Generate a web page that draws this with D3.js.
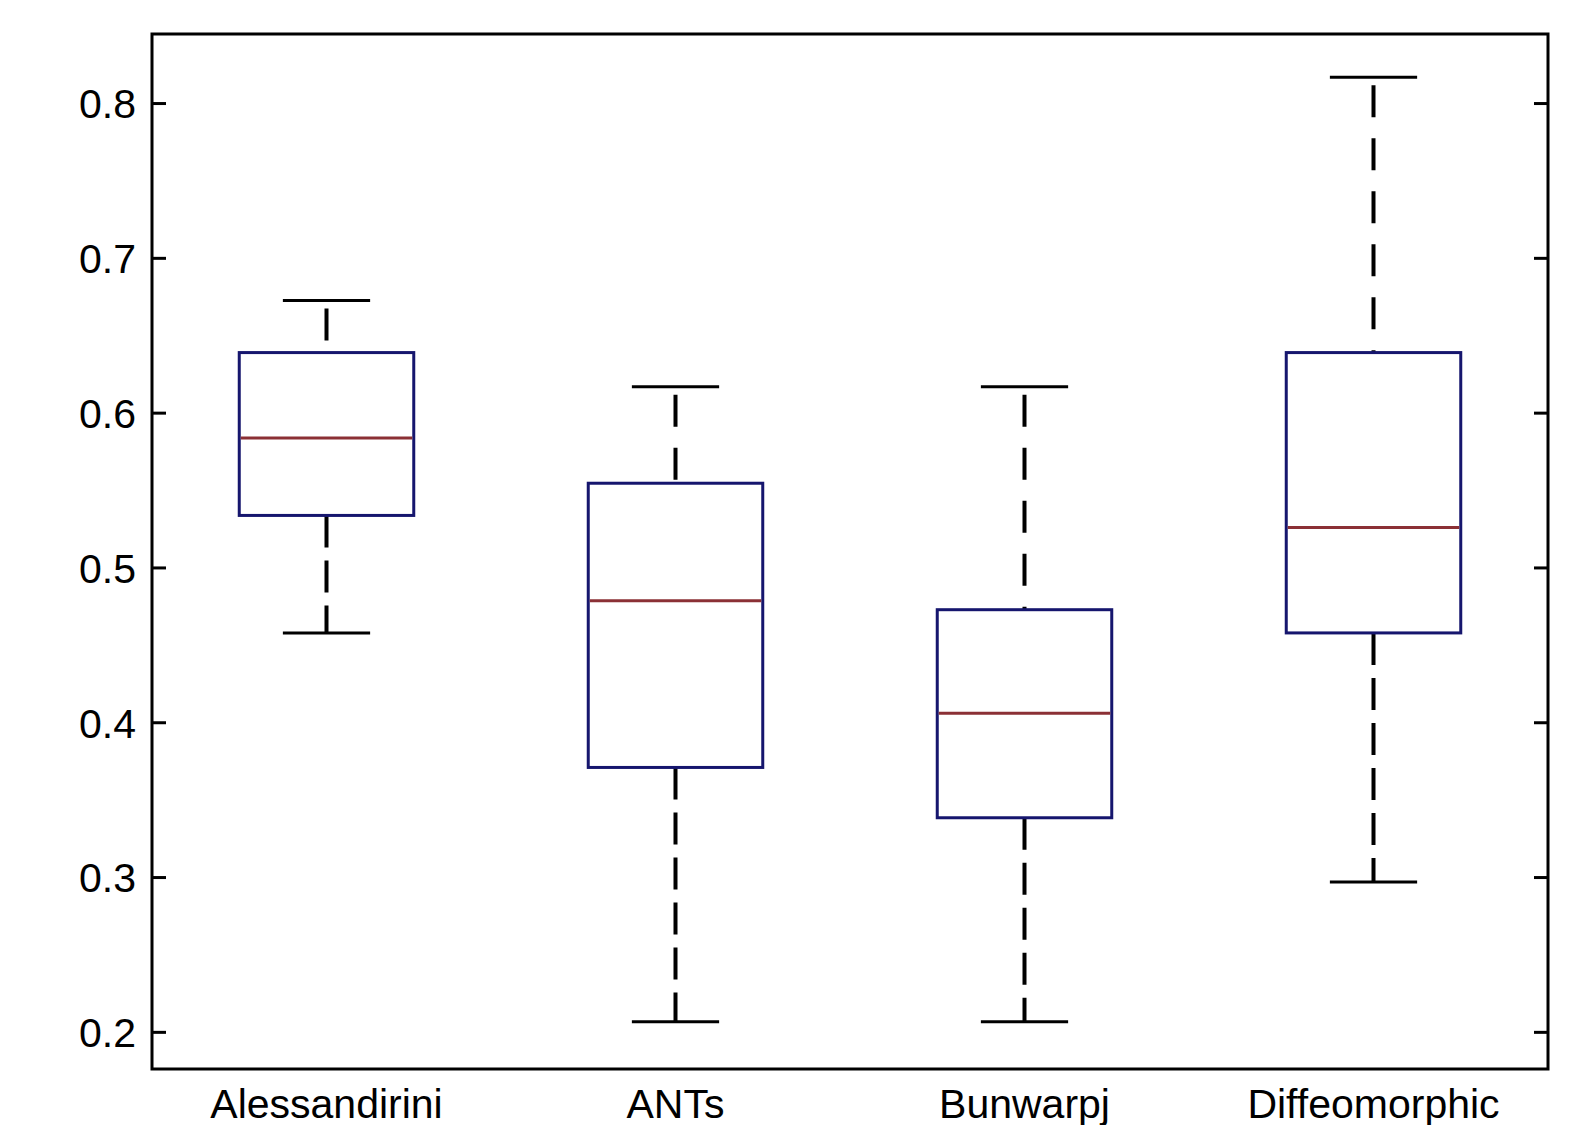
<!DOCTYPE html>
<meta charset="utf-8">
<head>
  <title>boxplot</title>
  <script src="https://d3js.org/d3.v7.min.js"></script>
  <style>
    body { margin: 0; background: #fff; }
    .tick text { font-family: "Liberation Sans", Arial, sans-serif; }
  </style>
</head>
<body>
<div id="my_dataviz"></div>
<script>

// data
var methods = ["Alessandirini", "ANTs", "Bunwarpj", "Diffeomorphic"];
var lowWhisker = [0.4577, 0.2066, 0.2066, 0.2968];
var q1 = [0.5336, 0.3708, 0.3383, 0.4577];
var median = [0.5836, 0.4785, 0.4058, 0.5258];
var q3 = [0.6388, 0.5544, 0.4727, 0.6388];
var highWhisker = [0.6725, 0.6167, 0.6167, 0.8166];
var yTicks = [0.2, 0.3, 0.4, 0.5, 0.6, 0.7, 0.8];

var data = methods.map(function(m, i) {
  return {name: m, lo: lowWhisker[i], q1: q1[i], med: median[i], q3: q3[i], hi: highWhisker[i]};
});

var W = 1575, H = 1125;
var margin = {top: 34, right: 27, bottom: 56, left: 152};
var width = W - margin.left - margin.right,
    height = H - margin.top - margin.bottom;

var svg = d3.select("#my_dataviz")
  .append("svg")
    .attr("width", W)
    .attr("height", H)
  .append("g")
    .attr("transform", "translate(" + margin.left + "," + margin.top + ")");

var x = d3.scaleBand()
  .domain(methods)
  .range([0, width])
  .padding(0);

var y = d3.scaleLinear()
  .domain([0.176, 0.8446])
  .range([height, 0]);

var boxW = x.bandwidth() * 0.5;
var capW = x.bandwidth() * 0.25;

// y axis, ticks pointing inward
var yAxis = svg.append("g")
  .call(d3.axisLeft(y).tickValues(yTicks).tickSize(-14).tickSizeOuter(0).tickPadding(16).tickFormat(d3.format(".1f")));
yAxis.select(".domain").remove();
yAxis.selectAll("line").attr("stroke", "#000").attr("stroke-width", 3);
yAxis.selectAll("text").style("font-size", "41px").attr("fill", "#000").attr("dy", "0.36em");

var yAxisR = svg.append("g")
  .attr("transform", "translate(" + width + ",0)")
  .call(d3.axisRight(y).tickValues(yTicks).tickSize(-14).tickSizeOuter(0).tickFormat(""));
yAxisR.select(".domain").remove();
yAxisR.selectAll("line").attr("stroke", "#000").attr("stroke-width", 3);

// x labels
var xAxis = svg.append("g")
  .attr("transform", "translate(0," + height + ")")
  .call(d3.axisBottom(x).tickSize(0).tickPadding(20));
xAxis.select(".domain").remove();
xAxis.selectAll("text").style("font-size", "41px").attr("fill", "#000");

// whiskers
var groups = svg.selectAll("g.box")
  .data(data)
  .enter()
  .append("g")
    .attr("class", "box")
    .attr("transform", function(d) { return "translate(" + (x(d.name) + x.bandwidth() / 2) + ",0)"; });

groups.append("line")
  .attr("x1", 0).attr("x2", 0)
  .attr("y1", function(d) { return y(d.q1); })
  .attr("y2", function(d) { return y(d.lo); })
  .attr("stroke", "#000")
  .attr("stroke-width", 4)
  .style("stroke-dasharray", "32,13");

groups.append("line")
  .attr("x1", 0).attr("x2", 0)
  .attr("y1", function(d) { return y(d.hi); })
  .attr("y2", function(d) { return y(d.q3); })
  .attr("stroke", "#000")
  .attr("stroke-width", 4)
  .style("stroke-dasharray", "0,8,32,13");

// caps
groups.append("line")
  .attr("x1", -capW / 2).attr("x2", capW / 2)
  .attr("y1", function(d) { return y(d.hi); })
  .attr("y2", function(d) { return y(d.hi); })
  .attr("stroke", "#000")
  .attr("stroke-width", 3);

groups.append("line")
  .attr("x1", -capW / 2).attr("x2", capW / 2)
  .attr("y1", function(d) { return y(d.lo); })
  .attr("y2", function(d) { return y(d.lo); })
  .attr("stroke", "#000")
  .attr("stroke-width", 3);

// boxes
groups.append("rect")
  .attr("x", -boxW / 2)
  .attr("width", boxW)
  .attr("y", function(d) { return y(d.q3); })
  .attr("height", function(d) { return y(d.q1) - y(d.q3); })
  .attr("fill", "none")
  .attr("stroke", "#16166e")
  .attr("stroke-width", 3);

// medians
groups.append("line")
  .attr("x1", -boxW / 2 + 1.5).attr("x2", boxW / 2 - 1.5)
  .attr("y1", function(d) { return y(d.med); })
  .attr("y2", function(d) { return y(d.med); })
  .attr("stroke", "#8b3035")
  .attr("stroke-width", 3);

// frame
svg.append("rect")
  .attr("x", 0).attr("y", 0)
  .attr("width", width).attr("height", height)
  .attr("fill", "none")
  .attr("stroke", "#000")
  .attr("stroke-width", 3);

</script>
</body>
